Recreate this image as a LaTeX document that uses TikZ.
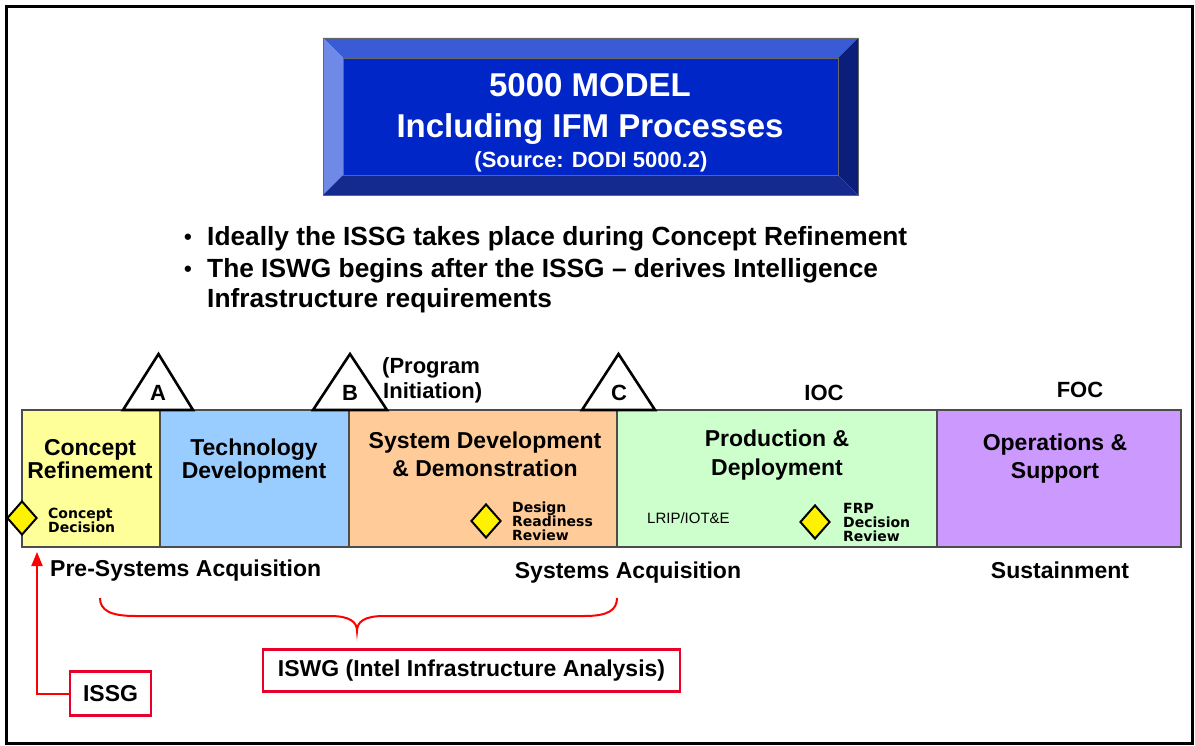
\documentclass[tikz,border=0pt]{standalone}
\usepackage{fontspec}
\setmainfont{Liberation Sans}
\newfontfamily\dvs{DejaVu Sans}
\usetikzlibrary{arrows.meta,shapes.geometric}
\definecolor{bevT}{HTML}{3A5BD6}
\definecolor{bevL}{HTML}{6F8AE6}
\definecolor{bevR}{HTML}{0B1E7A}
\definecolor{bevB}{HTML}{142A8F}
\definecolor{titleblue}{HTML}{0026C8}
\definecolor{cYel}{HTML}{FFFF99}
\definecolor{cBlu}{HTML}{99CCFF}
\definecolor{cOra}{HTML}{FFCC99}
\definecolor{cGre}{HTML}{CCFFCC}
\definecolor{cPur}{HTML}{CC99FF}
\definecolor{boxred}{HTML}{E8002A}
\begin{document}
\begin{tikzpicture}[x=1pt,y=-1pt,
  phase/.style={draw=black!70,line width=1.2pt,inner sep=0,minimum height=137},
  ptext/.style={font=\bfseries\fontsize{23}{28}\selectfont,anchor=base,inner sep=0},
  tri/.style={draw=black,fill=white,line width=2.6pt,line join=miter},
  trilabel/.style={font=\bfseries\fontsize{22}{26}\selectfont,anchor=base,inner sep=0},
  dia/.style={diamond,draw=black,line width=2pt,fill=yellow,inner sep=0,minimum width=30,minimum height=34},
  small/.style={font=\dvs\bfseries\fontsize{14}{15}\selectfont,anchor=base west,inner sep=0},
  acq/.style={font=\bfseries\fontsize{23}{26}\selectfont,anchor=base,inner sep=0},
  redbox/.style={draw=boxred,line width=2.6pt,fill=white,inner sep=0,font=\bfseries\fontsize{23}{26}\selectfont},
  redline/.style={draw=red,line width=2pt},
  bullet/.style={font=\bfseries\fontsize{26.3}{31}\selectfont,anchor=base west,inner sep=0},
  bdot/.style={font=\bfseries\fontsize{22}{24}\selectfont,anchor=base,inner sep=0}
]
\useasboundingbox (0,0) rectangle (1195,746);
% outer frame
\node[draw=black,line width=3pt,minimum width=1185.5,minimum height=736,inner sep=0] (frame) at (599.25,375) {};
% title bevel box
\fill[bevT] (323,38) -- (858,38) -- (838,58) -- (343,58) -- cycle;
\fill[bevL] (323,38) -- (343,58) -- (343,175) -- (323,195) -- cycle;
\fill[bevR] (858,38) -- (858,195) -- (838,175) -- (838,58) -- cycle;
\fill[bevB] (323,195) -- (343,175) -- (838,175) -- (858,195) -- cycle;
\node[fill=titleblue,draw=black!60,line width=0.6pt,minimum width=495,minimum height=117,inner sep=0] (titlebox) at (590.5,116.5) {};
\draw[black!60,line width=0.8pt] (323,38) rectangle (858,195);
\node[font=\bfseries\fontsize{33}{36}\selectfont,text=white,anchor=base,inner sep=0] (t1) at (590,97) {5000 MODEL};
\node[font=\bfseries\fontsize{33}{36}\selectfont,text=white,anchor=base,inner sep=0] (t2) at (590,138) {Including IFM Processes};
\node[font=\bfseries\fontsize{22}{26}\selectfont,text=white,anchor=base,inner sep=0] (t3) at (591,168) {(Source: DODI 5000.2)};
% bullets
\node[bdot] (bu1) at (188,245) {•};
\node[bdot] (bu2) at (188,277) {•};
\node[bullet] (b1) at (207,246) {Ideally the ISSG takes place during Concept Refinement};
\node[bullet] (b2) at (207,278) {The ISWG begins after the ISSG -- derives Intelligence};
\node[bullet] (b3) at (207,308) {Infrastructure requirements};
% phase bar
\node[phase,fill=cYel,minimum width=138] (cr) at (91,478.5) {};
\node[phase,fill=cBlu,minimum width=189] (td) at (254.5,478.5) {};
\node[phase,fill=cOra,minimum width=268] (sdd) at (483,478.5) {};
\node[phase,fill=cGre,minimum width=320] (pd) at (777,478.5) {};
\node[phase,fill=cPur,minimum width=244] (os) at (1059,478.5) {};
% phase labels
\node[ptext] (cr1) at (90,455) {Concept};
\node[ptext] (cr2) at (90,478) {Refinement};
\node[ptext] (td1) at (254,455) {Technology};
\node[ptext] (td2) at (254,478) {Development};
\node[ptext] (sd1) at (485,448) {System Development};
\node[ptext] (sd2) at (485,476) {\& Demonstration};
\node[ptext] (pd1) at (777,446) {Production \&};
\node[ptext] (pd2) at (777,475) {Deployment};
\node[ptext] (os1) at (1055,450) {Operations \&};
\node[ptext] (os2) at (1055,478) {Support};
% milestone triangles
\draw[tri] (123,410) -- (158.5,354) -- (193,410) -- cycle;
\draw[tri] (313,410) -- (350,354) -- (387,410) -- cycle;
\draw[tri] (582,410) -- (618.5,354) -- (655,410) -- cycle;
\node[trilabel] (mA) at (158,400) {A};
\node[trilabel] (mB) at (350,400) {B};
\node[trilabel] (mC) at (619,400) {C};
\node[font=\bfseries\fontsize{22}{25}\selectfont,anchor=base west,inner sep=0] (pi1) at (382,373) {(Program};
\node[font=\bfseries\fontsize{22}{25}\selectfont,anchor=base west,inner sep=0] (pi2) at (383,398) {Initiation)};
\node[trilabel] (ioc) at (824,400) {IOC};
\node[trilabel] (foc) at (1080,397) {FOC};
% decision diamonds
\node[dia] (dcd) at (22,518) {};
\node[small] (cd1) at (48,518) {Concept};
\node[small] (cd2) at (48,532) {Decision};
\node[dia] (ddr) at (486,521) {};
\node[small] (dr1) at (512,512) {Design};
\node[small] (dr2) at (512,526) {Readiness};
\node[small] (dr3) at (512,540) {Review};
\node[dia] (dfrp) at (815,522) {};
\node[small] (fr1) at (843,513) {FRP};
\node[small] (fr2) at (843,527) {Decision};
\node[small] (fr3) at (843,541) {Review};
\node[font=\fontsize{15}{17}\selectfont,anchor=base west,inner sep=0] (lrip) at (647,523.5) {LRIP/IOT\&E};
% acquisition labels
\node[acq,anchor=base west] (pre) at (50,576) {Pre-Systems Acquisition};
\node[acq] (sys) at (628,578) {Systems Acquisition};
\node[acq] (sus) at (1060,578) {Sustainment};
% ISSG / ISWG boxes
\node[redbox,minimum width=81,minimum height=44] (issg) at (110.5,693.5) {ISSG};
\node[redbox,minimum width=417,minimum height=42] (iswg) at (471.5,670.5) {ISWG (Intel Infrastructure Analysis)};
\coordinate (arrtip) at (37,552);
\draw[redline,-{Triangle[length=14pt,width=11pt]}] (issg.west) -| (arrtip);
% brace
\coordinate (brL) at (100,598);
\coordinate (brR) at (617,598);
\coordinate (brTip) at (357,631);
\draw[redline] (brL) .. controls (100,610) and (110,616) .. (135,616) -- (330,616)
  .. controls (350,616) and (357,622) .. (brTip)
  .. controls (357,622) and (364,616) .. (384,616) -- (585,616)
  .. controls (608,616) and (617,610) .. (brR);
\end{tikzpicture}
\end{document}
